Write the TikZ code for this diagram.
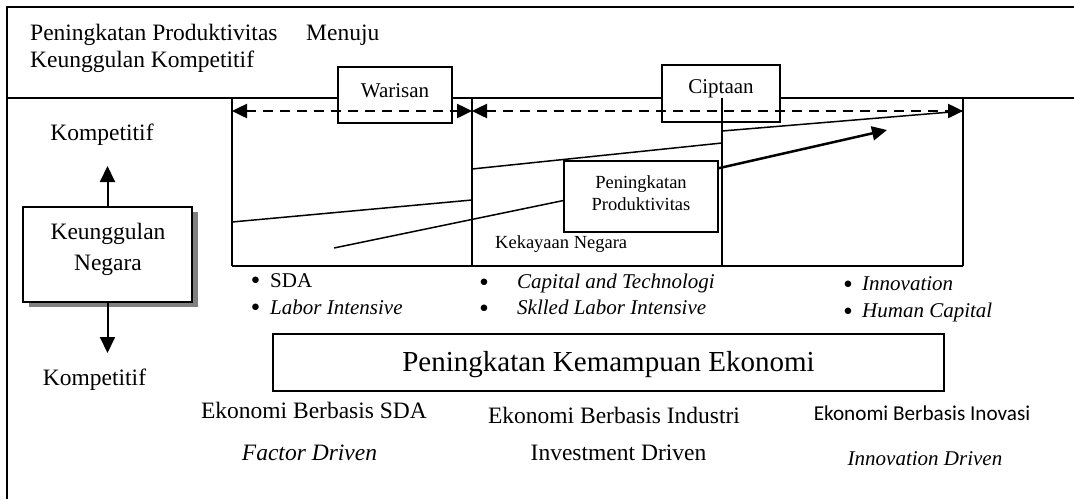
\documentclass[tikz,border=0pt]{standalone}
\usepackage{fontspec}
\setmainfont{Liberation Serif}
\newfontfamily\serifB{Liberation Serif}
\newfontfamily\calib{Carlito}
\newfontfamily\dvs{DejaVu Sans}
\usetikzlibrary{arrows.meta}
\begin{document}
\begin{tikzpicture}[x=1pt,y=-1pt,
  txt/.style={inner sep=0pt, anchor=base},
  txtw/.style={inner sep=0pt, anchor=base west},
  fA/.style={font=\serifB\fontsize{23.5}{28}\selectfont},
  fAi/.style={font=\serifB\fontsize{23.5}{28}\selectfont\itshape},
  fB/.style={font=\serifB\fontsize{21}{25}\selectfont},
  fBi/.style={font=\serifB\fontsize{21}{25}\selectfont\itshape},
  bul/.style={inner sep=0pt, anchor=center, font=\dvs\fontsize{8.5}{9}\selectfont},
  fC/.style={font=\serifB\fontsize{18.5}{22}\selectfont},
  fD/.style={font=\serifB\fontsize{29}{34}\selectfont},
  rule/.style={line width=1.5pt},
  vrule/.style={line width=2pt},
  slant/.style={line width=1.5pt},
  boxst/.style={draw, line width=1.8pt, fill=white, inner sep=0pt},
  dashar/.style={line width=2.5pt, dash pattern=on 10pt off 7pt,
     {Triangle[length=15pt,width=14pt]}-{Triangle[length=15pt,width=14pt]}},
  tri/.style={line width=2.5pt, -{Triangle[length=15pt,width=14pt]}},
  kar/.style={line width=2pt, -{Triangle[length=16pt,width=15pt]}},
]
\useasboundingbox (0,0) rectangle (1074,499);
\fill[white] (0,0) rectangle (1074,499);

% frame
\draw[rule] (7,499) -- (7,7) -- (1074,7);
\draw[rule] (7,98) -- (1074,98);

% title
\node[txtw,fA] (t1) at (30,40) {Peningkatan Produktivitas};
\node[txtw,fA] (t2) at (306,40) {Menuju};
\node[txtw,fA] (t3) at (30,67) {Keunggulan Kompetitif};

% top boxes
\node[boxst, minimum width=114pt, minimum height=56pt] (war) at (395,95) {};
\node[txt,fB] (wart) at (395,97) {Warisan};
\node[boxst, minimum width=118pt, minimum height=57pt] (cip) at (721,93.5) {};
\node[txt,fB] (cipt) at (721,93) {Ciptaan};

% verticals
\coordinate (v1t) at (232,98);  \coordinate (v1b) at (232,266);
\coordinate (v2t) at (472,98);  \coordinate (v2b) at (472,266);
\coordinate (v3t) at (722,98);  \coordinate (v3b) at (722,266);
\coordinate (v4t) at (963,98);  \coordinate (v4b) at (963,266);
\draw[vrule] (v1t) -- (v1b);
\draw[vrule] (v2t) -- (v2b);
\draw[vrule] (v3t) -- (v3b);
\draw[vrule] (v4t) -- (v4b);
\draw[rule] (v1b) -- (v4b);

% dashed arrows
\coordinate (d1) at (232,111);
\coordinate (d2) at (472,111);
\coordinate (d3) at (963,111);
\draw[dashar] (d1) -- (d2);
\draw[dashar] (d2) -- (d3);

% slanted lines
\coordinate (a1) at (232,222); \coordinate (a2) at (472,200);
\draw[slant] (a1) -- (a2);
\coordinate (c1) at (472,169); \coordinate (c2) at (722,143);
\draw[slant] (c1) -- (c2);
\coordinate (e1) at (722,131);
\draw[slant] (e1) -- (d3);

% productivity box
\node[boxst, minimum width=154pt, minimum height=71pt] (pp) at (641,196.5) {};
\node[txt,fC] (pp1) at (641,188) {Peningkatan};
\node[txt,fC] (pp2) at (641,210) {Produktivitas};
\coordinate (b1) at (334,248);
\draw[slant] (b1) -- (pp.183);
\coordinate (tip) at (887,130);
\draw[tri] (pp.20) -- (tip);

\node[txtw,fC] (kek) at (495,248) {Kekayaan Negara};

% Keunggulan Negara
\fill[gray] (29,212) rectangle (198,307);
\node[boxst, minimum width=169pt, minimum height=95pt] (kn) at (107.5,254.5) {};
\node[txt,fA] (kn1) at (108,239) {Keunggulan};
\node[txt,fA] (kn2) at (108,270) {Negara};
\coordinate (upt) at (107.5,166);
\coordinate (dnt) at (107.5,353);
\draw[kar] (kn.north) -- (upt);
\draw[kar] (kn.south) -- (dnt);
\node[txt,fA] (kt) at (102,140) {Kompetitif};
\node[txt,fA] (kb) at (94.5,385) {Kompetitif};

% bullets
\node[bul] (bu1) at (255.5,280.5) {●};
\node[txtw,fB] (s1) at (270,287) {SDA};
\node[bul] (bu2) at (255.5,307.5) {●};
\node[txtw,fBi] (s2) at (270,314) {Labor Intensive};
\node[bul] (bu3) at (484,282) {●};
\node[txtw,fBi] (s3) at (517,288) {Capital and Technologi};
\node[bul] (bu4) at (484,308) {●};
\node[txtw,fBi] (s4) at (517,314) {Sklled Labor Intensive};
\node[bul] (bu5) at (848,284) {●};
\node[txtw,fBi] (s5) at (862,290) {Innovation};
\node[bul] (bu6) at (848,311) {●};
\node[txtw,fBi] (s6) at (862,317) {Human Capital};

% big box
\node[boxst, minimum width=671pt, minimum height=57pt] (big) at (608.5,362.5) {};
\node[txt,fD] (bigt) at (608.5,371) {Peningkatan Kemampuan Ekonomi};

% bottom labels
\node[txt,fA] (e1t) at (314,418) {Ekonomi Berbasis SDA};
\node[txt,fAi] (e1d) at (309.5,460) {Factor Driven};
\node[txt,fA] (e2t) at (614,423) {Ekonomi Berbasis Industri};
\node[txt,fA] (e2d) at (618.5,460) {Investment Driven};
\node[txt,font=\calib\fontsize{21.2}{25}\selectfont] (e3t) at (922,420) {Ekonomi Berbasis Inovasi};
\node[txt,fBi] (e3d) at (925,465) {Innovation Driven};
\end{tikzpicture}
\end{document}
